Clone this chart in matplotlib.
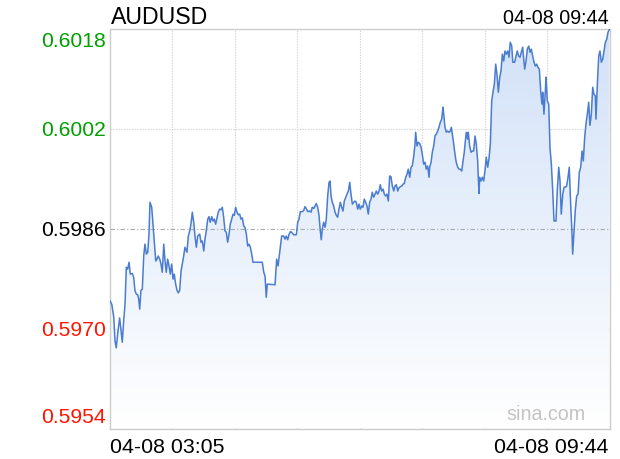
import matplotlib
matplotlib.use("Agg")
import matplotlib.pyplot as plt
import numpy as np
from matplotlib.colors import LinearSegmentedColormap

plt.rcParams['font.family'] = ['Liberation Sans', 'DejaVu Sans']

title = "AUDUSD"
time_start = "04-08 03:05"
time_end = "04-08 09:44"
watermark = "sina.com"
y_ticks = [0.6018, 0.6002, 0.5986, 0.5970, 0.5954]
y_tick_labels = ["0.6018", "0.6002", "0.5986", "0.5970", "0.5954"]
prev_close = 0.5986
span_minutes = 399

# minutes since 03:05
minutes = [
    0.2, 1.8, 3.4, 4.4, 5.4, 6.5, 8.1, 9.2, 10.2, 11.3, 12.4, 13.4, 14.5, 15.6, 16.6, 18.2, 19.3, 20.3, 21.4, 22.5,
    23.3, 24.1, 25.1, 26.2, 27.3, 28.3, 29.4, 30.5, 31.5, 32.3, 33.7, 34.7, 35.8, 36.9, 37.9, 38.9, 40.1, 41.1, 42.1, 43.3,
    44.3, 45.3, 46.4, 47.5, 48.5, 49.6, 50.7, 51.7, 52.8, 53.9, 54.9, 56.0, 57.1, 58.1, 59.2, 60.2, 61.8, 62.9, 64.0, 65.0,
    66.1, 67.2, 68.2, 69.3, 70.4, 72.0, 73.0, 74.1, 75.2, 76.2, 77.2, 78.4, 79.4, 80.4, 81.6, 82.6, 83.6, 84.7, 85.8, 86.8,
    87.9, 89.0, 90.0, 91.1, 92.2, 93.2, 94.3, 95.4, 96.4, 97.5, 98.6, 99.6, 100.7, 101.7, 102.8, 103.9, 104.9, 106.0, 107.1, 108.1,
    109.2, 110.3, 111.3, 112.4, 113.5, 114.5, 121.9, 123.1, 124.1, 125.1, 125.9, 132.1, 133.4, 134.5, 136.1, 137.4, 139.0, 140.0, 141.1, 142.2,
    143.2, 144.3, 145.4, 147.0, 149.1, 150.2, 151.2, 152.3, 153.9, 155.0, 156.0, 157.0, 158.2, 159.8, 160.8, 161.8, 163.0, 164.0, 165.0, 166.1,
    167.2, 168.2, 169.0, 169.8, 170.9, 172.0, 173.0, 174.1, 175.2, 176.0, 176.8, 177.8, 178.9, 180.0, 181.0, 182.1, 183.1, 184.2, 185.3, 186.3,
    187.4, 189.5, 190.6, 191.7, 192.7, 193.8, 194.9, 195.9, 196.9, 198.1, 199.1, 200.1, 201.3, 202.3, 203.3, 204.4, 205.5, 206.5, 207.6, 208.7,
    209.7, 210.8, 211.9, 212.9, 214.0, 215.1, 216.1, 217.2, 218.3, 219.3, 220.4, 221.4, 222.5, 223.6, 224.6, 225.7, 226.8, 227.8, 228.9, 230.0,
    231.0, 232.1, 233.2, 234.2, 235.2, 236.4, 237.4, 238.4, 239.6, 240.6, 241.6, 242.8, 243.8, 244.3, 245.4, 246.4, 247.5, 248.6, 249.6, 250.7,
    251.8, 252.8, 253.9, 255.0, 255.5, 256.6, 257.6, 258.7, 259.7, 260.8, 261.9, 262.9, 264.0, 265.1, 266.1, 266.7, 267.7, 268.8, 269.9, 270.9,
    272.0, 272.8, 273.6, 274.7, 275.7, 276.7, 277.9, 278.9, 279.9, 281.1, 282.1, 283.1, 283.7, 284.7, 285.8, 286.3, 287.4, 288.5, 289.5, 290.6,
    291.7, 292.7, 293.8, 294.3, 294.9, 295.4, 296.5, 297.5, 298.6, 299.6, 300.7, 301.8, 302.8, 303.9, 305.0, 306.0, 307.1, 308.2, 309.2, 310.3,
    311.4, 312.4, 313.5, 314.6, 315.6, 316.6, 317.8, 318.8, 319.8, 321.0, 321.8, 323.3, 324.4, 325.4, 326.5, 327.6, 328.6, 329.7, 330.8, 331.3,
    332.4, 333.4, 334.5, 335.6, 336.6, 337.7, 338.8, 339.8, 340.9, 341.9, 343.0, 344.1, 345.1, 345.7, 346.7, 347.8, 348.3, 349.4, 350.5, 351.5,
    352.6, 353.7, 354.7, 356.3, 357.3, 358.5, 359.5, 360.5, 361.7, 362.7, 363.7, 364.8, 365.9, 366.9, 368.0, 369.1, 369.6, 370.7, 371.7, 372.8,
    373.9, 374.9, 376.0, 377.1, 378.1, 379.2, 380.2, 381.3, 382.4, 383.4, 384.5, 385.6, 386.6, 387.7, 388.2, 389.3, 390.4, 391.4, 392.5, 393.6,
    394.6, 395.7, 396.8, 397.8, 398.8,
]

prices = [
    0.59745, 0.59739, 0.59718, 0.59680, 0.59669, 0.59691, 0.59717, 0.59696, 0.59678, 0.59712, 0.59739, 0.59798, 0.59795, 0.59806, 0.59787, 0.59788, 0.59782, 0.59761, 0.59755, 0.59754,
    0.59747, 0.59731, 0.59761, 0.59763, 0.59816, 0.59835, 0.59819, 0.59822, 0.59851, 0.59902, 0.59894, 0.59867, 0.59835, 0.59808, 0.59811, 0.59816, 0.59811, 0.59803, 0.59790, 0.59835,
    0.59808, 0.59790, 0.59811, 0.59800, 0.59787, 0.59803, 0.59779, 0.59787, 0.59771, 0.59761, 0.59757, 0.59761, 0.59792, 0.59803, 0.59816, 0.59830, 0.59822, 0.59848, 0.59856, 0.59867,
    0.59886, 0.59870, 0.59848, 0.59830, 0.59848, 0.59851, 0.59838, 0.59840, 0.59824, 0.59843, 0.59856, 0.59875, 0.59879, 0.59870, 0.59879, 0.59872, 0.59875, 0.59867, 0.59877, 0.59886,
    0.59891, 0.59890, 0.59894, 0.59878, 0.59856, 0.59854, 0.59838, 0.59851, 0.59867, 0.59875, 0.59883, 0.59881, 0.59894, 0.59886, 0.59882, 0.59883, 0.59875, 0.59877, 0.59864, 0.59862,
    0.59851, 0.59832, 0.59835, 0.59830, 0.59819, 0.59806, 0.59806, 0.59790, 0.59784, 0.59750, 0.59771, 0.59770, 0.59811, 0.59800, 0.59827, 0.59848, 0.59848, 0.59843, 0.59848, 0.59842,
    0.59850, 0.59855, 0.59854, 0.59850, 0.59850, 0.59870, 0.59875, 0.59887, 0.59887, 0.59889, 0.59895, 0.59892, 0.59887, 0.59888, 0.59886, 0.59894, 0.59892, 0.59896, 0.59900, 0.59894,
    0.59881, 0.59856, 0.59842, 0.59859, 0.59870, 0.59862, 0.59875, 0.59912, 0.59934, 0.59936, 0.59912, 0.59902, 0.59896, 0.59886, 0.59881, 0.59878, 0.59891, 0.59902, 0.59894, 0.59888,
    0.59904, 0.59915, 0.59920, 0.59934, 0.59915, 0.59899, 0.59902, 0.59904, 0.59902, 0.59891, 0.59899, 0.59891, 0.59896, 0.59894, 0.59907, 0.59902, 0.59896, 0.59883, 0.59902, 0.59907,
    0.59918, 0.59910, 0.59915, 0.59920, 0.59915, 0.59920, 0.59930, 0.59920, 0.59923, 0.59915, 0.59912, 0.59915, 0.59904, 0.59944, 0.59943, 0.59928, 0.59920, 0.59928, 0.59930, 0.59920,
    0.59925, 0.59927, 0.59928, 0.59931, 0.59932, 0.59942, 0.59947, 0.59955, 0.59942, 0.59958, 0.59960, 0.59976, 0.59995, 0.60014, 0.59992, 0.59998, 0.59996, 0.59990, 0.59979, 0.59963,
    0.59966, 0.59955, 0.59960, 0.59942, 0.59958, 0.59966, 0.59982, 0.59992, 0.60008, 0.60011, 0.60016, 0.60022, 0.60030, 0.60035, 0.60054, 0.60043, 0.60022, 0.60014, 0.60016, 0.60014,
    0.60016, 0.60022, 0.60011, 0.59995, 0.59979, 0.59966, 0.59958, 0.59955, 0.59955, 0.59952, 0.59968, 0.59982, 0.59995, 0.60014, 0.60003, 0.60014, 0.59992, 0.59982, 0.59984, 0.59984,
    0.60008, 0.59995, 0.59968, 0.59942, 0.59916, 0.59942, 0.59936, 0.59942, 0.59936, 0.59952, 0.59974, 0.59958, 0.59971, 0.59995, 0.60064, 0.60078, 0.60091, 0.60123, 0.60107, 0.60078,
    0.60102, 0.60112, 0.60139, 0.60128, 0.60144, 0.60139, 0.60144, 0.60134, 0.60158, 0.60152, 0.60126, 0.60126, 0.60136, 0.60144, 0.60136, 0.60134, 0.60142, 0.60150, 0.60126, 0.60115,
    0.60128, 0.60147, 0.60152, 0.60142, 0.60147, 0.60136, 0.60126, 0.60120, 0.60123, 0.60118, 0.60115, 0.60080, 0.60059, 0.60078, 0.60043, 0.60080, 0.60102, 0.60064, 0.60059, 0.59990,
    0.59963, 0.59920, 0.59872, 0.59872, 0.59920, 0.59958, 0.59936, 0.59883, 0.59915, 0.59926, 0.59926, 0.59928, 0.59942, 0.59958, 0.59899, 0.59851, 0.59819, 0.59856, 0.59889, 0.59912,
    0.59915, 0.59950, 0.59958, 0.59984, 0.59968, 0.60006, 0.60027, 0.60043, 0.60062, 0.60025, 0.60043, 0.60086, 0.60075, 0.60072, 0.60035, 0.60091, 0.60136, 0.60144, 0.60126, 0.60131,
    0.60144, 0.60158, 0.60163, 0.60174, 0.60178,
]

W, H = 620, 460
fig = plt.figure(figsize=(W / 100, H / 100), dpi=100)
L, R, T, B = 109.5, 609.5, 29.5, 429.5
ax = fig.add_axes([L / W, 1 - B / H, (R - L) / W, (B - T) / H])
ymin, ymax = y_ticks[-1], y_ticks[0]
ax.set_xlim(0, span_minutes)
ax.set_ylim(ymin, ymax)
ax.set_xticks([])
ax.set_yticks([])
for s in ax.spines.values():
    s.set_color('#cccccc')
    s.set_linewidth(1.0)

# grid
for k in range(1, 8):
    ax.axvline(span_minutes * k / 8, color='#d4d4d4', lw=0.8, ls=(0, (1.2, 1.2)), zorder=1)
for v in y_ticks[1:-1]:
    if v == prev_close:
        ax.axhline(v, color='#aaaaaa', lw=0.8, ls=(0, (4, 2, 1, 2)), zorder=3)
    else:
        ax.axhline(v, color='#d4d4d4', lw=0.8, ls=(0, (1.2, 1.2)), zorder=1)

x = np.array(minutes)
y = np.array(prices)

# gradient fill under the curve
poly = ax.fill_between(x, y, ymin, color='none', lw=0)
cmap = LinearSegmentedColormap.from_list('g', ['#ffffff', '#d2e1f8'])
grad = np.linspace(0, 1, 256).reshape(-1, 1)
im = ax.imshow(grad, aspect='auto', cmap=cmap, origin='lower',
               extent=[0, span_minutes, ymin, ymax], zorder=2)
im.set_clip_path(poly.get_paths()[0], transform=ax.transData)

ax.plot(x, y, color='#4a7ccf', lw=1.1, zorder=4)

# texts
def ftext(px, py, s, **kw):
    fig.text(px / W, 1 - py / H, s, **kw)

ftext(110.5, 24, title, fontsize=16.7, ha='left', va='baseline', color='black')
ftext(608.5, 23.5, time_end, fontsize=14.2, ha='right', va='baseline', color='black')
ftext(110, 453.5, time_start, fontsize=15.4, ha='left', va='baseline', color='black')
ftext(608.5, 453.5, time_end, fontsize=15.4, ha='right', va='baseline', color='black')
ftext(506, 420, watermark, fontsize=14.2, ha='left', va='baseline', color='#c4c4c4')

label_baselines = [46.7, 136, 236, 336, 423]
for v, lab, by in zip(y_ticks, y_tick_labels, label_baselines):
    if v > prev_close:
        c = '#00a000'
    elif v < prev_close:
        c = '#ff1500'
    else:
        c = 'black'
    ftext(105.5, by, lab, fontsize=15.2, ha='right', va='baseline', color=c)

fig.savefig('out.png', dpi=100)
